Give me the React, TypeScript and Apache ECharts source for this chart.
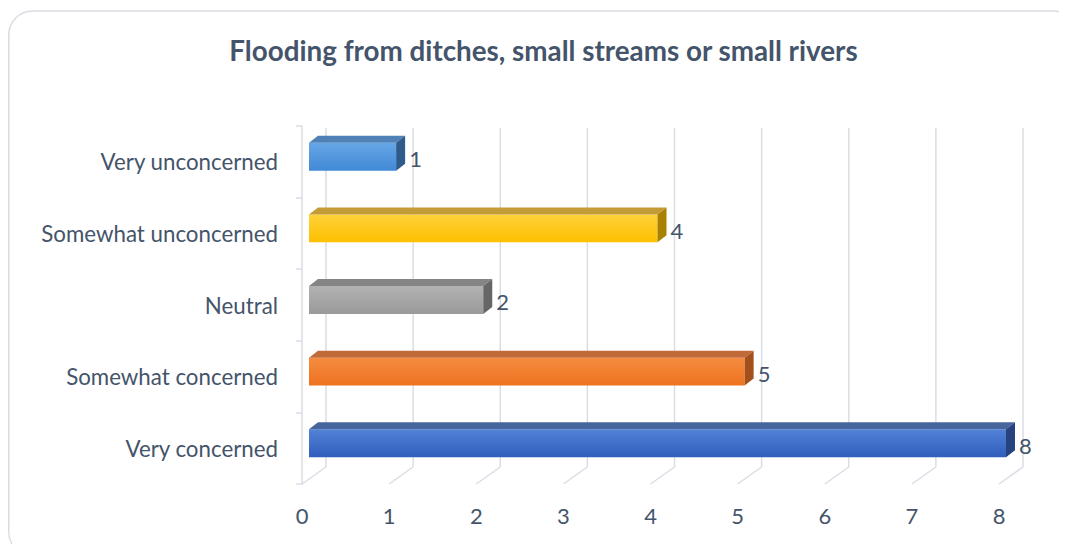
import React, { useEffect, useRef } from "react";
import * as echarts from "echarts";

const categories = ["Very concerned", "Somewhat concerned", "Neutral", "Somewhat unconcerned", "Very unconcerned"];
const values = [8, 5, 2, 4, 1];
const xTicks = [0, 1, 2, 3, 4, 5, 6, 7, 8];
const titleText = "Flooding from ditches, small streams or small rivers";

const faceColors = [
  { front: ["#5283d6", "#2f5ebd"], top: "#46659c", side: "#26437f" },
  { front: ["#f68c40", "#ee7220"], top: "#c2693a", side: "#a4501c" },
  { front: ["#b2b2b2", "#9a9a9a"], top: "#858585", side: "#666666" },
  { front: ["#ffd23a", "#fdc000"], top: "#c39c38", side: "#a88100" },
  { front: ["#66a6e6", "#4189d6"], top: "#4f80b6", side: "#2e5a8c" },
];

const TEXT = "#44546A";
const GRID = "#dadde5";
const FONT = "Lato, 'Open Sans', sans-serif";

export default function App() {
  const ref = useRef<HTMLDivElement>(null);
  useEffect(() => {
    const chart = echarts.init(ref.current!, null, { renderer: "svg" });
    chart.setOption({
      animation: false,
      backgroundColor: "#ffffff",
      title: {
        text: titleText,
        left: 530.5,
        textAlign: "center",
        top: 23,
        textStyle: { fontFamily: FONT, fontSize: 27.8, fontWeight: "bold", color: TEXT },
      },
      graphic: [
        {
          type: "rect",
          shape: { x: 0.75, y: 3, width: 1068, height: 545, r: 24 },
          style: { fill: "none", stroke: "#d9dce2", lineWidth: 1.5 },
          silent: true,
          z: -10,
        },
      ],
      grid: { left: 294, right: 68, top: 118, bottom: 60 },
      xAxis: {
        type: "value",
        min: 0,
        max: 8,
        interval: 1,
        splitLine: { show: false },
        axisLine: { show: false },
        axisTick: { show: false },
        axisLabel: { margin: 20, fontFamily: FONT, fontSize: 22, color: TEXT },
      },
      yAxis: {
        type: "category",
        data: categories,
        offset: 2,
        axisLine: { show: true, lineStyle: { color: GRID, width: 1.5 } },
        axisTick: { show: true, length: 6, lineStyle: { color: GRID, width: 1.5 } },
        axisLabel: { margin: 22, fontFamily: FONT, fontSize: 22.3, color: TEXT },
      },
      series: [
        {
          type: "custom",
          silent: true,
          data: xTicks.map((t) => [t, 0]),
          encode: { x: 0, y: 1 },
          z: 1,
          renderItem: (params: any, api: any) => {
            const cs = params.coordSys;
            const x = api.coord([api.value(0), 0])[0];
            const top = cs.y + 2;
            const bottom = cs.y + cs.height;
            const dx = 24;
            const dy = 17;
            return {
              type: "group",
              children: [
                {
                  type: "line",
                  shape: { x1: x + dx, y1: top, x2: x + dx, y2: bottom - dy },
                  style: { stroke: GRID, lineWidth: 1.5 },
                },
                {
                  type: "line",
                  shape: { x1: x, y1: bottom, x2: x + dx, y2: bottom - dy },
                  style: { stroke: GRID, lineWidth: 1.5 },
                },
              ],
            };
          },
        },
        {
          type: "custom",
          silent: true,
          data: values.map((v, i) => [v, i]),
          encode: { x: 0, y: 1 },
          z: 2,
          renderItem: (params: any, api: any) => {
            const v = api.value(0);
            const idx = api.value(1);
            const c0 = api.coord([0, idx]);
            const c1 = api.coord([v, idx]);
            const band = api.size([0, 1])[1];
            const h = band * 0.39;
            const cy = c0[1] - band * 0.07;
            const x0 = c0[0] + 7;
            const x1 = c1[0] + 7;
            const yt = cy - h / 2;
            const yb = cy + h / 2;
            const dx = 9;
            const dy = 7;
            const col = faceColors[params.dataIndex];
            return {
              type: "group",
              children: [
                {
                  type: "rect",
                  shape: { x: x0, y: yt, width: x1 - x0, height: yb - yt },
                  style: {
                    fill: new echarts.graphic.LinearGradient(0, 0, 0, 1, [
                      { offset: 0, color: col.front[0] },
                      { offset: 1, color: col.front[1] },
                    ]),
                  },
                },
                {
                  type: "polygon",
                  shape: { points: [[x0, yt], [x1, yt], [x1 + dx, yt - dy], [x0 + dx, yt - dy]] },
                  style: { fill: col.top },
                },
                {
                  type: "polygon",
                  shape: { points: [[x1, yt], [x1 + dx, yt - dy], [x1 + dx, yb - dy], [x1, yb]] },
                  style: { fill: col.side },
                },
                {
                  type: "text",
                  x: x1 + dx + 4,
                  y: cy + 2,
                  style: {
                    text: String(v),
                    fill: TEXT,
                    fontFamily: FONT,
                    fontSize: 22,
                    align: "left",
                    verticalAlign: "middle",
                  },
                },
              ],
            };
          },
        },
      ],
    });
    return () => chart.dispose();
  }, []);
  return <div ref={ref} style={{ width: 1059, height: 536 }} />;
}
